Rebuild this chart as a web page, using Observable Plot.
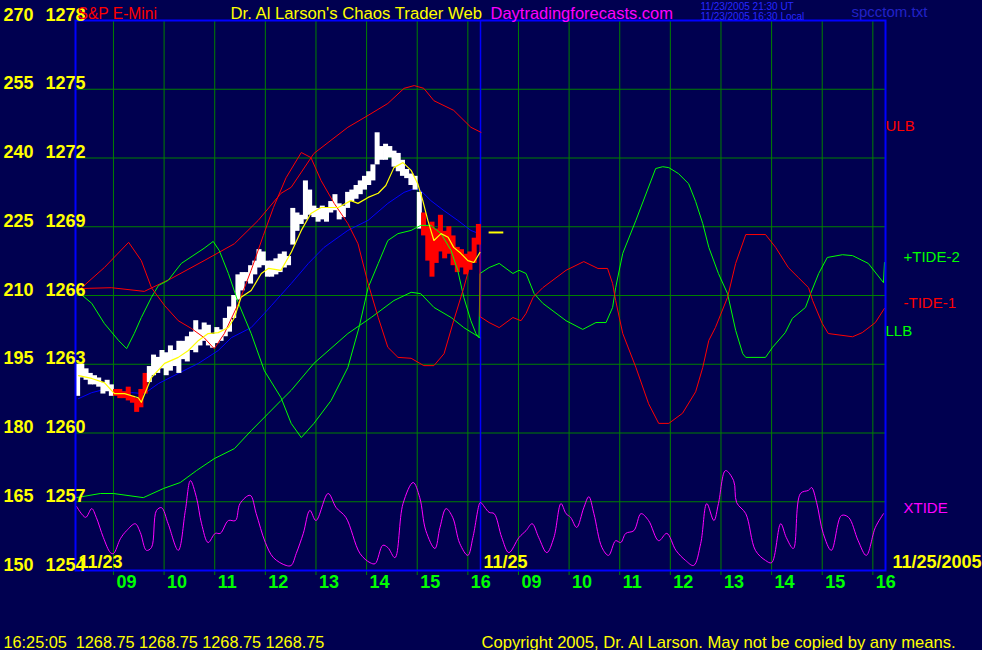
<!DOCTYPE html>
<html><head><meta charset="utf-8">
<script src="https://cdn.jsdelivr.net/npm/d3@7"></script>
<script src="https://cdn.jsdelivr.net/npm/@observablehq/plot@0.6"></script>
<style>html,body{margin:0;padding:0;background:#000050;overflow:hidden}</style>
</head><body><div id="chart"></div>
<script>
// ---------- data ----------
const sessionDates = ["11/23", "11/25"];
const fullDate = "11/25/2005";
const sessionOpen = 8.25, sessionClose = 16.25;   // 08:15 .. 16:15
const hourLabels = ["09","10","11","12","13","14","15","16"];
const hourTicks = [9,10,11,12,13,14,15,16];
const gridValues = [150,165,180,195,210,225,240,255,270];
const priceLabels = [1254,1257,1260,1263,1266,1269,1272,1275,1278];
const lastPrice = 1268.75;
const lastMarkHours = [8.42, 8.71];   // session 2
const quoteLine = "16:25:05  1268.75 1268.75 1268.75 1268.75";

// 5-minute bars of session 1 (S&P E-Mini, price units)
const barLow = [1261.6,1262.4,1262.3,1262.1,1262.1,1262.0,1261.7,1261.8,1261.6,1261.6,1261.5,1261.5,1261.4,1261.3,1260.9,1261.1,1261.7,1262.2,1262.5,1262.6,1262.8,1262.5,1262.7,1262.9,1262.6,1263.2,1263.1,1263.6,1263.5,1263.8,1264.0,1263.8,1263.7,1263.9,1264.0,1264.2,1264.4,1265.0,1265.8,1266.2,1266.6,1266.5,1266.9,1267.2,1267.3,1266.8,1266.8,1266.9,1267.0,1267.2,1267.3,1268.2,1268.8,1269.1,1269.3,1269.5,1269.4,1269.2,1269.3,1269.2,1269.6,1269.7,1269.3,1269.4,1269.8,1270.1,1270.2,1270.4,1270.6,1270.8,1271.0,1271.7,1271.9,1271.9,1272.0,1271.6,1271.4,1271.2,1271.1,1270.8,1270.6,1268.9,1268.6,1267.5,1266.8,1267.4,1267.9,1267.6,1267.8,1267.3,1267.0,1267.2,1266.9,1267.1,1267.4,1268.2];
const barHigh = [1263.0,1263.0,1262.8,1262.6,1262.5,1262.4,1262.2,1262.3,1262.1,1261.9,1261.9,1261.8,1262.0,1261.6,1261.5,1261.9,1262.6,1262.9,1263.4,1263.3,1263.6,1263.5,1263.8,1263.6,1264.0,1264.0,1264.2,1264.4,1264.9,1264.5,1264.8,1264.7,1264.3,1264.6,1264.5,1265.0,1265.5,1266.0,1266.9,1267.0,1267.0,1267.3,1267.5,1268.0,1267.9,1267.5,1267.5,1267.6,1267.8,1267.9,1267.7,1269.8,1269.6,1269.5,1271.0,1270.6,1269.9,1269.8,1269.9,1269.8,1270.1,1270.4,1270.0,1269.9,1270.5,1270.6,1270.8,1271.0,1271.2,1271.4,1271.7,1273.1,1272.5,1272.6,1272.5,1272.3,1272.2,1271.9,1271.5,1271.3,1271.2,1270.5,1269.6,1269.0,1269.2,1268.9,1269.5,1268.8,1269.0,1268.6,1268.1,1268.0,1267.8,1267.9,1268.5,1269.1];
const barTone = "wwwwwwwwwrrrrrrrrwwwwwwwwwwwwwwwwwwwwwwwwwwwwwwwwwwwwwwwwwwwwwwwwwwwwwwwwwwwwwwwwwrrrrrrrrrrrrrr";

// overlay curves: [hour of session, value on 150..270 scale]
const ulbDay1 = [[8.27,211.5],[8.96,211.7],[9.61,210.9],[10.14,213.7],[10.79,217.6],[11.39,221.3],[11.86,226.4],[12.31,232.3],[12.51,233.6],[12.96,241.0],[13.63,246.7],[14.03,249.3],[14.42,251.9],[14.74,255.2],[14.94,255.8],[15.13,255.2],[15.33,252.5],[15.72,250.4],[16.06,246.7],[16.26,245.6]];
const tide1Day1 = [[8.31,211.1],[8.82,216.1],[9.30,221.6],[9.55,217.6],[9.75,211.7],[10.01,207.8],[10.28,204.5],[10.54,202.8],[10.79,200.8],[10.99,198.4],[11.19,201.7],[11.47,208.3],[11.72,215.5],[11.96,223.1],[12.16,229.2],[12.41,235.7],[12.71,241.2],[12.90,240.1],[13.10,235.1],[13.36,230.1],[13.63,225.7],[13.83,221.3],[14.03,212.6],[14.23,205.2],[14.42,198.7],[14.62,196.5],[14.88,196.3],[15.13,194.7],[15.33,194.7],[15.53,197.3],[15.72,204.5],[15.92,211.7],[16.12,219.8],[16.24,224.8]];
const tide1Day2 = [[8.24,205.4],[8.42,204.1],[8.62,203.0],[8.89,205.2],[9.05,204.5],[9.15,206.1],[9.29,209.6],[9.48,211.7],[9.94,215.5],[10.29,217.4],[10.57,215.9],[10.76,215.9],[10.86,212.6],[10.92,208.9],[11.06,201.7],[11.32,194.3],[11.57,186.4],[11.77,182.1],[11.97,182.1],[12.24,184.3],[12.50,189.0],[12.64,194.3],[12.76,200.2],[12.89,203.0],[13.13,209.6],[13.29,217.0],[13.49,223.3],[13.88,223.3],[14.08,220.5],[14.33,216.1],[14.53,213.9],[14.73,211.7],[14.81,208.9],[15.00,203.9],[15.12,201.7],[15.60,201.0],[15.79,201.9],[16.05,204.1],[16.23,207.2]];
const tide2Day1 = [[8.31,210.7],[8.57,208.3],[8.82,203.9],[9.10,200.2],[9.26,198.4],[9.41,201.7],[9.55,205.2],[9.75,209.6],[9.89,212.2],[10.08,213.3],[10.34,217.0],[10.79,220.3],[10.97,221.8],[11.09,219.8],[11.27,214.8],[11.47,208.3],[11.72,201.7],[11.98,193.6],[12.31,187.7],[12.51,182.1],[12.71,179.0],[12.96,182.1],[13.30,187.1],[13.63,194.3],[13.85,203.0],[14.03,211.7],[14.23,217.0],[14.42,222.0],[14.62,223.5],[14.88,224.2],[15.07,225.3],[15.27,225.3],[15.47,223.5],[15.67,219.8],[15.80,215.5],[15.92,209.6],[16.06,204.5],[16.16,201.7],[16.22,200.8]];
const tide2Day2 = [[8.24,214.8],[8.42,216.1],[8.62,217.0],[8.89,214.8],[9.01,215.5],[9.15,214.8],[9.31,210.4],[9.48,208.3],[9.94,204.5],[10.27,202.6],[10.53,204.1],[10.73,204.1],[10.86,207.4],[10.92,211.7],[11.06,219.2],[11.32,226.4],[11.71,237.7],[11.85,238.1],[11.97,237.9],[12.16,236.6],[12.36,234.4],[12.50,230.5],[12.64,225.7],[12.76,220.5],[12.95,214.8],[13.13,210.4],[13.29,202.4],[13.43,197.3],[13.49,196.5],[13.88,196.5],[14.02,198.7],[14.27,201.9],[14.41,205.0],[14.67,207.4],[14.77,210.4],[14.93,214.8],[15.10,218.3],[15.40,218.9],[15.60,218.7],[15.91,217.0],[16.21,212.8],[16.23,217.2]];
const llbDay1 = [[8.27,165.9],[8.74,166.8],[9.00,166.8],[9.59,165.9],[9.99,167.9],[10.32,169.2],[10.64,171.8],[10.99,174.4],[11.39,176.6],[11.72,180.5],[12.06,184.3],[12.31,187.1],[12.51,189.3],[12.96,195.2],[13.63,201.7],[14.09,205.2],[14.54,208.9],[14.88,210.7],[15.07,210.4],[15.33,207.4],[15.67,205.2],[15.92,203.0],[16.24,200.8]];
const avgDay1 = [[8.31,187.5],[8.57,188.8],[8.82,189.5],[9.10,189.0],[9.36,188.8],[9.61,188.6],[9.89,190.8],[10.28,193.0],[10.68,195.2],[11.07,198.0],[11.33,200.8],[11.72,203.0],[11.98,206.1],[12.12,207.8],[12.51,212.6],[12.85,217.0],[13.16,220.5],[13.63,224.2],[14.03,226.4],[14.42,230.1],[14.74,232.5],[14.94,233.3],[15.07,232.9],[15.27,230.7],[15.53,228.5],[15.80,226.4],[16.06,224.2],[16.22,223.5]];
const smoothDay1 = [[8.31,192.5],[8.57,191.9],[8.82,191.0],[9.02,188.6],[9.22,188.6],[9.49,187.7],[9.55,186.7],[9.75,192.1],[10.01,195.2],[10.28,196.5],[10.48,198.0],[10.68,200.2],[10.87,201.7],[11.07,201.9],[11.27,203.0],[11.39,205.2],[11.52,209.6],[11.72,211.1],[11.92,214.8],[12.06,215.9],[12.31,215.5],[12.51,219.4],[12.71,224.2],[12.90,227.9],[13.10,229.2],[13.44,229.2],[13.69,230.7],[13.83,230.1],[14.03,231.4],[14.23,232.3],[14.38,234.0],[14.54,237.9],[14.72,239.0],[14.88,237.3],[15.01,234.4],[15.11,230.7],[15.21,226.4],[15.33,222.0],[15.47,223.5],[15.61,222.7],[15.72,220.5],[15.86,219.2],[16.00,217.6],[16.12,217.2],[16.24,219.4]];
const xtideDay1 = [[8.27,164.0],[8.45,161.6],[8.57,163.5],[8.66,161.6],[8.80,157.2],[8.94,153.9],[9.00,153.7],[9.14,157.0],[9.26,158.7],[9.43,160.2],[9.53,158.3],[9.65,154.4],[9.75,155.0],[9.85,163.1],[9.95,163.7],[10.08,160.2],[10.28,154.4],[10.42,163.1],[10.52,169.6],[10.64,165.9],[10.74,160.2],[10.87,156.1],[11.01,158.1],[11.11,158.1],[11.27,160.9],[11.41,160.9],[11.50,164.6],[11.70,166.4],[11.82,162.4],[12.00,156.1],[12.16,152.8],[12.41,151.1],[12.51,151.1],[12.61,153.7],[12.75,158.1],[12.88,163.1],[13.00,160.9],[13.24,166.8],[13.40,163.7],[13.59,161.6],[13.87,153.7],[14.07,151.7],[14.17,151.5],[14.32,155.5],[14.42,155.0],[14.56,152.8],[14.72,164.6],[14.92,169.2],[15.05,165.9],[15.17,158.7],[15.35,154.8],[15.45,159.4],[15.57,163.5],[15.70,161.6],[15.84,155.9],[16.00,153.3],[16.10,157.2],[16.24,164.8]];
const xtideDay2 = [[8.26,164.8],[8.42,162.7],[8.52,162.4],[8.67,157.2],[8.81,153.9],[9.01,157.2],[9.15,158.7],[9.27,160.2],[9.40,157.2],[9.56,153.9],[9.70,157.2],[9.84,164.6],[9.94,162.4],[10.03,161.6],[10.15,159.4],[10.29,163.7],[10.39,166.1],[10.49,162.4],[10.65,155.0],[10.78,153.3],[10.92,156.5],[11.02,156.1],[11.12,158.1],[11.28,158.7],[11.42,162.4],[11.57,160.9],[11.77,156.5],[11.93,158.1],[12.11,154.4],[12.30,152.2],[12.46,151.1],[12.60,155.9],[12.72,164.6],[12.86,160.9],[12.95,164.6],[13.09,171.8],[13.25,169.6],[13.31,164.8],[13.49,162.4],[13.68,154.4],[13.88,152.2],[14.00,151.7],[14.18,160.2],[14.29,157.2],[14.43,154.8],[14.57,166.8],[14.73,167.5],[14.79,168.1],[14.89,164.8],[15.02,158.1],[15.18,154.4],[15.38,162.0],[15.52,161.6],[15.71,156.5],[15.87,153.3],[16.05,159.4],[16.21,162.4]];

// right-hand curve labels (value scale)
const curveLabels = [
  {text:"ULB", v:246.9, color:"#ff0000", inset:0},
  {text:"+TIDE-2", v:218.3, color:"#00ff00", inset:18},
  {text:"-TIDE-1", v:208.3, color:"#ff0000", inset:18},
  {text:"LLB", v:202.2, color:"#00ff00", inset:0},
  {text:"XTIDE", v:163.5, color:"#ff00ff", inset:18}
];

// ---------- build ----------
const SHIFT = sessionClose - sessionOpen;       // session 2 placed right after session 1
const pts = (arr, day) => arr.map(([h, v]) => ({t: h + day * SHIFT, v}));
const priceToV = p => 150 + (p - 1254) * 5;
const bars = barLow.map((lo, i) => ({
  t: sessionOpen + (i + 0.5) / 12, lo: priceToV(lo), hi: priceToV(barHigh[i]), tone: barTone[i]
}));
const ticks = [0, 1].flatMap(day => hourTicks.map((h, i) => ({t: h + day * SHIFT, label: hourLabels[i]})));
const FONT = "'Liberation Sans', Arial, Helvetica, sans-serif";
const note = (s, X, Y, o) => Plot.text([s], {frameAnchor: "top-left", dx: X - 75, dy: Y - 20,
  textAnchor: "start", lineAnchor: "bottom", fontFamily: FONT, ...o});
const GRID = "#008000";

const chart = Plot.plot({
  width: 982, height: 650,
  marginLeft: 75, marginRight: 97, marginTop: 20, marginBottom: 80,
  style: {background: "#000050", fontFamily: FONT, overflow: "visible"},
  x: {domain: [sessionOpen, sessionClose + SHIFT], axis: null},
  y: {domain: [150, 270], axis: null},
  marks: [
    Plot.ruleY(gridValues.slice(1, -1), {stroke: GRID, strokeWidth: 1}),
    Plot.ruleX(ticks, {x: "t", stroke: GRID, strokeWidth: 1, insetBottom: -5}),
    Plot.ruleX([sessionClose], {stroke: "#0000ff", strokeWidth: 1.5}),
    Plot.line(pts(xtideDay1, 0).concat(pts(xtideDay2, 1)), {x: "t", y: "v", stroke: "#ff00ff", strokeWidth: 1, curve: "catmull-rom"}),
    Plot.line(pts(llbDay1, 0), {x: "t", y: "v", stroke: "#00ff00", strokeWidth: 1}),
    Plot.line(pts(ulbDay1, 0), {x: "t", y: "v", stroke: "#ff0000", strokeWidth: 1}),
    Plot.line(pts(avgDay1, 0), {x: "t", y: "v", stroke: "#0000ff", strokeWidth: 1}),
    Plot.ruleX(bars, {x: "t", y1: "lo", y2: "hi", stroke: d => d.tone === "r" ? "#ff0000" : "#ffffff", strokeWidth: 5}),
    Plot.line(pts(tide2Day1, 0).concat(pts(tide2Day2, 1)), {x: "t", y: "v", stroke: "#00ff00", strokeWidth: 1}),
    Plot.line(pts(tide1Day1, 0).concat(pts(tide1Day2, 1)), {x: "t", y: "v", stroke: "#ff0000", strokeWidth: 1}),
    Plot.line(pts(smoothDay1, 0), {x: "t", y: "v", stroke: "#ffff00", strokeWidth: 1.2}),
    Plot.ruleY([priceToV(lastPrice)], {x1: lastMarkHours[0] + SHIFT, x2: lastMarkHours[1] + SHIFT, stroke: "#ffff00", strokeWidth: 2}),
    Plot.frame({stroke: "#0000ff", strokeWidth: 2}),
    // left double axis
    Plot.text(gridValues, {y: d => d, text: d => String(d), frameAnchor: "left", dx: -72, textAnchor: "start",
      lineAnchor: "bottom", fill: "#ffff00", fontSize: 18, fontWeight: "bold"}),
    Plot.text(priceLabels, {y: priceToV, text: d => String(d), frameAnchor: "left", dx: -30, textAnchor: "start",
      lineAnchor: "bottom", fill: "#ffff00", fontSize: 18, fontWeight: "bold"}),
    // hour labels
    Plot.text(ticks, {x: "t", text: "label", frameAnchor: "bottom", dy: 17, dx: 3, textAnchor: "start",
      lineAnchor: "bottom", fill: "#00ff00", fontSize: 18, fontWeight: "bold"}),
    // session dates
    Plot.text(sessionDates, {x: (d, i) => sessionOpen + i * SHIFT, text: d => d, frameAnchor: "bottom", dy: -3, dx: 3,
      textAnchor: "start", lineAnchor: "bottom", fill: "#ffff00", fontSize: 18, fontWeight: "bold"}),
    Plot.text([fullDate], {frameAnchor: "bottom-right", dx: 7, dy: -3, textAnchor: "start", lineAnchor: "bottom",
      fill: "#ffff00", fontSize: 18, fontWeight: "bold"}),
    // curve labels
    Plot.text(curveLabels, {y: "v", text: "text", fill: "color", frameAnchor: "right", textAnchor: "start",
      fontSize: 15}),
    // header
    note("S&P E-Mini", 77, 18, {fill: "#ff0000", fontSize: 15.6}),
    note("Dr. Al Larson's Chaos Trader Web", 230, 18, {fill: "#ffff00", fontSize: 16.7}),
    note("Daytradingforecasts.com", 490, 18, {fill: "#ff00ff", fontSize: 16.5}),
    note("11/23/2005 21:30 UT", 700, 9.5, {fill: "#2828ff", fontSize: 10}),
    note("11/23/2005 16:30 Local", 700, 19, {fill: "#2828ff", fontSize: 10}),
    note("spcctom.txt", 851, 16.5, {fill: "#2222c8", fontSize: 15}),
    // footer
    note(quoteLine, 3, 647, {fill: "#ffff00", fontSize: 16.25}),
    note("Copyright 2005, Dr. Al Larson. May not be copied by any means.", 481, 647, {fill: "#ffff00", fontSize: 16.6})
  ]
});
// curve label horizontal offsets (some labels sit further right)
d3.select(chart).selectAll("text").filter(function() {
  const t = this.textContent; return curveLabels.some(c => c.text === t && c.inset);
}).attr("transform", function() {
  const c = curveLabels.find(c => c.text === this.textContent);
  const tr = d3.select(this).attr("transform") || "";
  return tr + ` translate(${c.inset},0)`;
});
document.getElementById("chart").appendChild(chart);
</script>
</body></html>
